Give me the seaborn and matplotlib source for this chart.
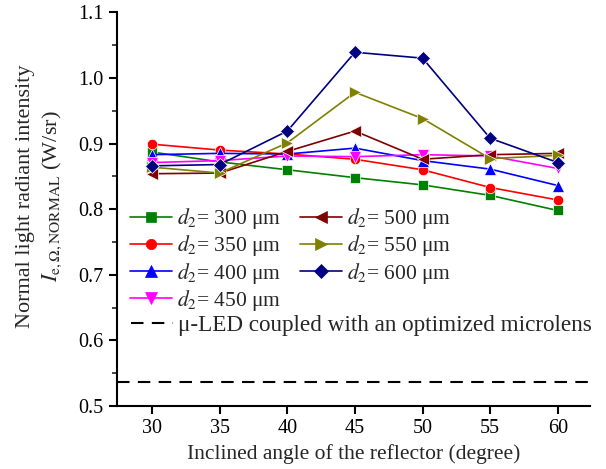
import numpy as np
import pandas as pd
import matplotlib
matplotlib.use("Agg")
import matplotlib.pyplot as plt
from matplotlib.lines import Line2D
from matplotlib.ticker import MultipleLocator
import seaborn as sns

angles = [30, 35, 40, 45, 50, 55, 60]
d2_300 = [0.887, 0.872, 0.860, 0.848, 0.837, 0.821, 0.798]
d2_350 = [0.899, 0.890, 0.884, 0.876, 0.860, 0.833, 0.814]
d2_400 = [0.883, 0.885, 0.884, 0.893, 0.874, 0.861, 0.836]
d2_450 = [0.871, 0.874, 0.881, 0.880, 0.883, 0.881, 0.862]
d2_500 = [0.854, 0.855, 0.888, 0.919, 0.876, 0.883, 0.885]
d2_550 = [0.864, 0.855, 0.901, 0.978, 0.938, 0.877, 0.882]
d2_600 = [0.866, 0.868, 0.919, 1.039, 1.030, 0.908, 0.871]
microlens_ref = 0.537

series_names = ["300", "350", "400", "450", "500", "550", "600"]
series_vals = [d2_300, d2_350, d2_400, d2_450, d2_500, d2_550, d2_600]
colors = ["#008000", "#FF0000", "#0000FF", "#FF00FF", "#800000", "#808000", "#000080"]
markers = ["s", "o", "^", "v", "<", ">", "D"]
msizes = [7, 7.5, 8, 8, 8, 8, 7]

rows = []
for n, vals in zip(series_names, series_vals):
    for a, v in zip(angles, vals):
        rows.append({"angle": a, "val": v, "d2": n})
df = pd.DataFrame(rows)

sns.set_style("ticks")
plt.rcParams["font.family"] = ["Liberation Serif", "DejaVu Serif"]
plt.rcParams["mathtext.fontset"] = "stix"

fig = plt.figure(figsize=(6.06, 4.69), dpi=100)
ax = fig.add_axes([0.193, 0.134, 0.781, 0.840])

sns.lineplot(data=df, x="angle", y="val", hue="d2", style="d2",
             palette=dict(zip(series_names, colors)),
             markers=dict(zip(series_names, markers)),
             dashes=False, linewidth=1.2, markersize=7,
             markeredgewidth=0.5, ax=ax, legend=False)
for ln, ms in zip(ax.get_lines(), msizes):
    ln.set_markersize(ms)

ax.axhline(microlens_ref, color="black", linestyle=(0, (6, 4)), linewidth=1.5)

ax.set_xlim(27.4, 62.4)
ax.set_ylim(0.5, 1.1)
ax.set_xticks(angles)
ax.yaxis.set_major_locator(MultipleLocator(0.1))
ax.yaxis.set_minor_locator(MultipleLocator(0.05))
ax.yaxis.set_major_formatter(matplotlib.ticker.FormatStrFormatter("%.1f"))
sns.despine(ax=ax)
for s in ["left", "bottom"]:
    ax.spines[s].set_linewidth(1.5)
    ax.spines[s].set_color("black")
ax.tick_params(axis="both", which="major", direction="out", length=6, width=1.5,
               labelsize=14.5, colors="black")
ax.tick_params(axis="y", which="minor", direction="out", length=3.5, width=1.2)

ax.set_xlabel("Inclined angle of the reflector (degree)", fontsize=15.5)
ax.set_ylabel("Normal light radiant intensity\n" + r"$I_{\mathrm{e,\Omega,NORMAL}}$ (W/sr)",
              fontsize=16, linespacing=1.35)
ax.yaxis.set_label_coords(-0.112, 0.533)

handles = []
for n, c, m, ms in zip(series_names, colors, markers, msizes):
    handles.append(Line2D([], [], color=c, marker=m, markersize=ms, linewidth=1.2,
                          markeredgewidth=0.5, label=r"$d_2$= " + n + " μm"))
leg1 = ax.legend(handles=handles, ncol=2, loc="upper left",
                 bbox_to_anchor=(0.0, 0.54), frameon=False, fontsize=15.5,
                 handlelength=1.95, handletextpad=0.25, columnspacing=0.84,
                 labelspacing=0.1, borderaxespad=0.2)
ax.add_artist(leg1)
dash_h = Line2D([], [], color="black", linestyle=(0, (6, 4)), linewidth=1.5,
                label="μ-LED coupled with an optimized microlens")
ax.legend(handles=[dash_h], loc="upper left", bbox_to_anchor=(0.0, 0.268),
          frameon=False, fontsize=16.7, handlelength=1.8, handletextpad=0.25,
          borderaxespad=0.2)

fig.savefig("out.png", dpi=100)
